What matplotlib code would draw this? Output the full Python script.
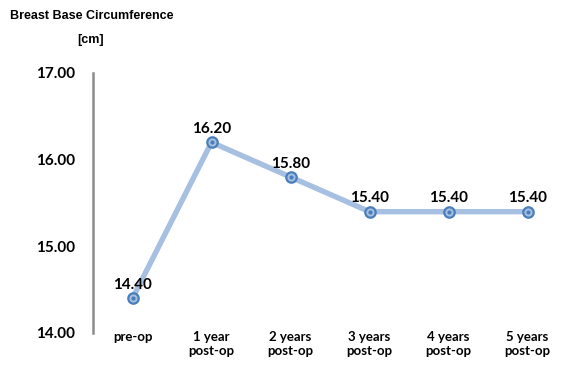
import matplotlib
matplotlib.use('Agg')
import matplotlib.pyplot as plt

categories = ['pre-op', '1 year\npost-op', '2 years\npost-op', '3 years\npost-op',
              '4 years\npost-op', '5 years\npost-op']
values = [14.40, 16.20, 15.80, 15.40, 15.40, 15.40]
yticks = [14.0, 15.0, 16.0, 17.0]

fig = plt.figure(figsize=(5.67, 3.70), dpi=100)
ax = fig.add_axes([93 / 567, 1 - 333 / 370, 1 - 93 / 567, (333 - 73) / 370])

x = list(range(len(values)))
ax.plot(x, values, color='#A7C0E1', linewidth=3.9, solid_capstyle='round', zorder=2)
ax.plot(x, values, linestyle='none', marker='o', markersize=7.5,
        markerfacecolor='#A7C0E1', markeredgecolor='#4A7EBB', markeredgewidth=1.6, zorder=3)
ax.plot(x, values, linestyle='none', marker='o', markersize=2,
        markerfacecolor='#4A7EBB', markeredgecolor='#4A7EBB', zorder=4)

for xi, v in zip(x, values):
    ax.annotate('%.2f' % v, (xi, v), xytext=(0, 4.5), textcoords='offset points',
                ha='center', va='bottom', fontsize=11, fontweight='bold',
                family='Lato', color='black')

ax.set_xlim(-0.5, 5.5)
ax.set_ylim(14.0, 17.0)
ax.set_yticks(yticks)
ax.set_yticklabels(['%.2f' % t for t in yticks])
ax.set_xticks(x)
ax.set_xticklabels(categories, linespacing=1.25)

for lab in ax.get_xticklabels() + ax.get_yticklabels():
    lab.set_fontweight('bold')
    lab.set_family('Lato')
ax.tick_params(axis='y', length=0, pad=13, labelsize=11)
ax.tick_params(axis='x', length=0, pad=-1.5, labelsize=9.5)

for s in ['top', 'right', 'bottom']:
    ax.spines[s].set_visible(False)
ax.spines['left'].set_color('#8C8C8C')
ax.spines['left'].set_linewidth(1.8)

fig.text(10 / 567, 1 - 16 / 370, 'Breast Base Circumference', fontsize=9,
         fontweight='bold', family='Liberation Sans', va='center', ha='left')
fig.text(91 / 567, 1 - 40 / 370, '[cm]', fontsize=9, fontweight='bold',
         family='Liberation Sans', va='center', ha='center')

fig.savefig('out.png', dpi=100)
